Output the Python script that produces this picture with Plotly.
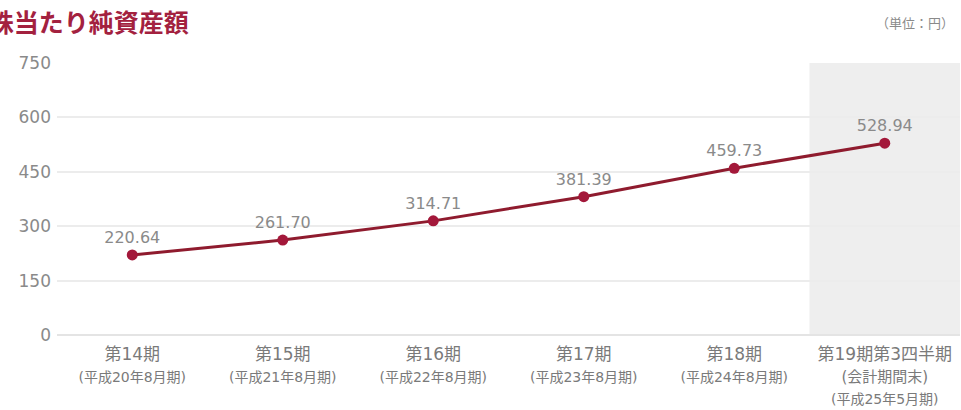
import plotly.graph_objects as go

# Net assets per share (yen), by fiscal period
periods = ["第14期", "第15期", "第16期", "第17期", "第18期", "第19期第3四半期"]
period_notes = ["(平成20年8月期)", "(平成21年8月期)", "(平成22年8月期)",
                "(平成23年8月期)", "(平成24年8月期)", "(会計期間末)<br>(平成25年5月期)"]
net_assets = [220.64, 261.70, 314.71, 381.39, 459.73, 528.94]
value_labels = ["220.64", "261.70", "314.71", "381.39", "459.73", "528.94"]
y_ticks = [0, 150, 300, 450, 600, 750]

FONT = "DejaVu Sans, Noto Sans CJK JP"
CJK = "Noto Sans CJK JP"
W, H = 961, 410
ML, MR, MT, MB = 57, 1, 63, 75

tick_text = []
for p, n in zip(periods, period_notes):
    if "<br>" in n:
        first, second = n.split("<br>")
        tick_text.append(f"{p}<br><span style='font-size:15px'>{first}</span>"
                         f"<br><span style='font-size:14px'>{second}</span>")
    else:
        tick_text.append(f"{p}<br><span style='font-size:14px'>{n}</span>")

x_idx = list(range(len(periods)))

fig = go.Figure()
fig.add_trace(go.Scatter(
    x=x_idx, y=net_assets,
    mode="lines+markers+text",
    line=dict(color="#8f1b2e", width=3),
    marker=dict(color="#a3183a", size=11),
    text=value_labels,
    textposition="top center",
    textfont=dict(family=FONT, size=16, color="#8a8a8a"),
    cliponaxis=False,
    hoverinfo="skip",
))

# Latest (quarterly) period highlighted with a grey band
fig.add_shape(type="rect", xref="x", yref="paper",
              x0=4.5, x1=5.5, y0=0, y1=1,
              fillcolor="#eeeeee", line_width=0, layer="below")

fig.update_layout(
    width=W, height=H,
    margin=dict(l=ML, r=MR, t=MT, b=MB),
    paper_bgcolor="white", plot_bgcolor="rgba(0,0,0,0)",
    showlegend=False,
    font=dict(family=FONT, color="#808080"),
    xaxis=dict(
        range=[-0.5, 5.5], tickmode="array", tickvals=x_idx, ticktext=tick_text,
        showgrid=False, zeroline=False, showline=False, ticks="",
        tickfont=dict(family=FONT, size=17, color="#7a7a7a"),
        ticklabelstandoff=7,
        fixedrange=True,
    ),
    yaxis=dict(
        range=[0, 750], tickmode="array", tickvals=y_ticks,
        showgrid=True, gridcolor="#ececec", gridwidth=2,
        zeroline=True, zerolinecolor="#e4e4e4", zerolinewidth=2,
        showline=False, ticks="", ticklabelstandoff=5,
        tickfont=dict(family=FONT, size=17, color="#8a8a8a"),
        fixedrange=True,
    ),
)

# Chart title (runs off the left edge) and unit note
fig.add_annotation(text="<b>1株当たり純資産額</b>", xref="paper", yref="paper",
                   x=(-28 - ML) / (W - ML - MR), y=1 + (MT - 21) / (H - MT - MB),
                   xanchor="left", yanchor="middle", showarrow=False,
                   font=dict(family=CJK, size=25, color="#a3213f"))
fig.add_annotation(text="（単位：円）", xref="paper", yref="paper",
                   x=(956 - ML) / (W - ML - MR), y=1 + (MT - 22) / (H - MT - MB),
                   xanchor="right", yanchor="middle", showarrow=False,
                   font=dict(family=CJK, size=13, color="#8a8a8a"))

fig.write_html("out.html")
